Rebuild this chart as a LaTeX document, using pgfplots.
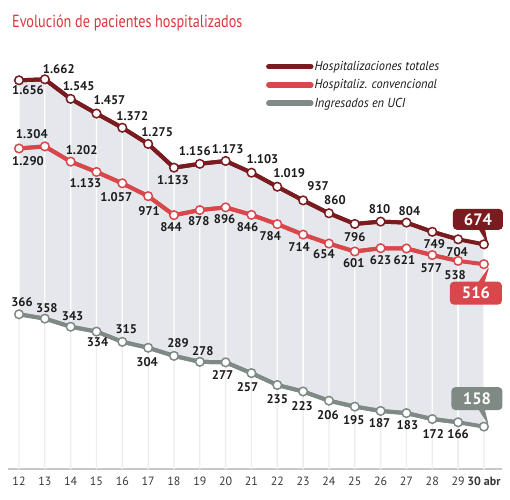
\documentclass[border=0pt]{standalone}
\usepackage{pgfplots}
\pgfplotsset{compat=1.18}
\usepackage{pgfplotstable}
\usepgfplotslibrary{fillbetween}
\usetikzlibrary{shapes.callouts}
\usepackage{fontspec}
\setmainfont{PT Sans}
\newfontfamily\titlefont[FakeStretch=0.81]{PT Sans}
\newfontfamily\legfont[FakeStretch=0.95]{PT Sans}
\definecolor{ctot}{HTML}{7A1B1F}
\definecolor{cconv}{HTML}{D8474B}
\definecolor{cuci}{HTML}{7F8A84}
\definecolor{cfill}{HTML}{E5E7EC}
\definecolor{cgrid}{HTML}{EDEDED}
\definecolor{caxis}{HTML}{C8C8C8}
\definecolor{ctitle}{HTML}{D9383A}
\definecolor{clab}{HTML}{1C1C1C}

\pgfplotstableread{
d v dx dy
12 1656 9 -10
13 1662 14 10
14 1545 8 13
15 1457 13 13
16 1372 10 12
17 1275 9 12
18 1133 -1 -12
19 1156 -5 13
20 1173 2 12
21 1103 11 14
22 1019 12 14
23 937 15 14
24 860 6 13
25 796 0 -13
26 810 -1 13
27 804 3 12
28 749 2 -12
29 704 -1 -13
30 674 0 0
}\tot

\pgfplotstableread{
d v dx dy
12 1290 9 -13
13 1304 -13 12
14 1202 11 12
15 1133 -11 -11
16 1057 -6 -14
17 971 1 -15
18 844 -3 -12
19 878 -1 -11
20 896 -1 -12
21 846 -4 -12
22 784 -7 -12
23 714 -4 -12
24 654 -5 -11
25 601 -1 -12
26 623 0 -12
27 621 -2 -12
28 577 -1 -13
29 538 -3 -14
30 516 0 0
}\conv

\pgfplotstableread{
d v dx dy
12 366 3 12
13 358 2 11
14 343 2 11
15 334 1 -11
16 315 4 13
17 304 -1 -14
18 289 4 13
19 278 3 11
20 277 -3 -13
21 257 -4 -14
22 235 0 -14
23 223 -1 -15
24 206 -1 -14
25 195 -1 -13
26 187 -1 -12
27 183 1 -12
28 172 1 -15
29 166 0 -12
30 158 0 0
}\uci

\tikzset{
  boxnode/.style={rectangle callout, fill=#1, text=white,
    font=\bfseries\fontsize{16.5}{16}\selectfont, rounded corners=4pt, callout pointer width=6pt, anchor=center},
}
\pgfplotsset{
  lbl/.style={
    point meta=\thisrow{v},
    skip coords between index={18}{19},
    nodes near coords,
    visualization depends on={\thisrow{dx} \as \lx},
    visualization depends on={\thisrow{dy} \as \ly},
    every node near coord/.append style={anchor=center, xshift=\lx pt, yshift=\ly pt,
      font=\bfseries\fontsize{12.6}{12}\selectfont, text=clab, inner sep=0pt}},
  ser/.style={#1, line width=4pt, mark=*, mark options={fill=white, draw=#1, line width=1.5pt}, forget plot},
  box/.style={only marks, mark=*, mark options={fill=white, draw=#1, line width=1.5pt}, forget plot,
    point meta=\thisrow{v}, skip coords between index={0}{18}, nodes near coords},
}

\begin{document}
\begin{tikzpicture}
\begin{axis}[
  at={(8pt,30pt)}, anchor=south west,
  scale only axis, width=494pt, height=429pt,
  xmin=11.574, xmax=30.70, ymin=30, ymax=459,
  axis x line=bottom, axis y line=none,
  axis line style={-, draw=caxis, line width=1.6pt},
  xtick={12,...,30},
  xticklabels={12,13,14,15,16,17,18,19,20,21,22,23,24,25,26,27,28,29,\textbf{30 abr}},
  xticklabel style={font=\fontsize{12}{13}\selectfont, text=black!78, yshift=-4pt},
  major tick length=0pt,
  /pgf/number format/assume math mode=true,
  /pgf/number format/1000 sep={.},
  legend style={draw=none, fill=none, at={(0.522,0.953)}, anchor=north west,
    font=\legfont\itshape\fontsize{13}{15}\selectfont, row sep=5.5pt, inner sep=0pt,
    nodes={inner sep=1pt, text=black!90}},
  legend cell align=left,
  mark size=4.3pt,
]
% invisible paths for fill
\addplot[draw=none, name path=ptot, forget plot] table[x=d, y expr=142.13+0.167*\thisrow{v}]{\tot};
\addplot[draw=none, name path=puci, forget plot] table[x=d, y expr=-12.93+0.54*\thisrow{v}]{\uci};
\addplot[cfill, forget plot] fill between[of=ptot and puci];
% vertical guide lines
\addplot[ybar, bar width=1.3pt, bar shift=0pt, fill=white, draw=none, forget plot] table[x=d, y expr=142.13+0.167*\thisrow{v}]{\tot};
\addplot[ybar, bar width=1.3pt, bar shift=0pt, fill=cgrid, draw=none, forget plot] table[x=d, y expr=-12.93+0.54*\thisrow{v}]{\uci};

% lines with labelled markers
\addplot[ser=ctot, lbl] table[x=d, y expr=142.13+0.167*\thisrow{v}]{\tot};
\addplot[ctot, line width=4pt, forget plot] table[x=d, y expr=142.13+0.167*\thisrow{v}]{\tot};
\addplot[ser=cconv, lbl] table[x=d, y expr=157.67+0.1495*\thisrow{v}]{\conv};
\addplot[cconv, line width=4pt, forget plot] table[x=d, y expr=157.67+0.1495*\thisrow{v}]{\conv};
\addplot[ser=cuci, lbl] table[x=d, y expr=-12.93+0.54*\thisrow{v}]{\uci};
\addplot[cuci, line width=4pt, forget plot] table[x=d, y expr=-12.93+0.54*\thisrow{v}]{\uci};

% last points with boxed labels
\addplot[box=ctot, every node near coord/.append style={boxnode=ctot, minimum width=50pt, minimum height=21pt,
    callout relative pointer={(6pt,-15pt)}, xshift=-6pt, yshift=25pt}]
  table[x=d, y expr=142.13+0.167*\thisrow{v}]{\tot};
\addplot[box=cconv, every node near coord/.append style={boxnode=cconv, minimum width=52pt, minimum height=23pt,
    callout relative pointer={(8pt,16pt)}, xshift=-8pt, yshift=-29pt}]
  table[x=d, y expr=157.67+0.1495*\thisrow{v}]{\conv};
\addplot[box=cuci, every node near coord/.append style={boxnode=cuci, minimum width=51pt, minimum height=23pt,
    callout relative pointer={(7pt,-16pt)}, xshift=-7pt, yshift=28pt}]
  table[x=d, y expr=-12.93+0.54*\thisrow{v}]{\uci};

\addlegendimage{legend image code/.code={\draw[line width=5.5pt, line cap=round, ctot] (0pt,0pt) -- (42pt,0pt);}}
\addlegendentry{Hospitalizaciones totales}
\addlegendimage{legend image code/.code={\draw[line width=5.5pt, line cap=round, cconv] (0pt,0pt) -- (42pt,0pt);}}
\addlegendentry{Hospitaliz. convencional}
\addlegendimage{legend image code/.code={\draw[line width=5.5pt, line cap=round, cuci] (0pt,0pt) -- (42pt,0pt);}}
\addlegendentry{Ingresados en UCI}
\end{axis}
\node[anchor=base west, text=ctitle, font=\titlefont\fontsize{17.5}{19}\selectfont, inner sep=0pt] at (12pt,471.5pt) {Evolución de pacientes hospitalizados};
\pgfresetboundingbox
\path[use as bounding box] (0pt,0pt) rectangle (510pt,499pt);
\end{tikzpicture}
\end{document}
